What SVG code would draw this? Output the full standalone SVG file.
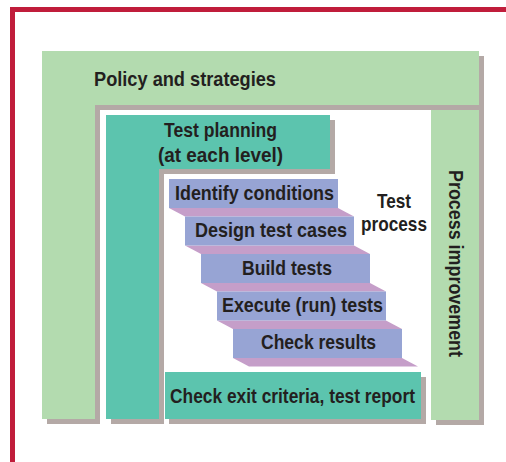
<svg xmlns="http://www.w3.org/2000/svg" width="506" height="462" viewBox="0 0 506 462">
  <style>
    .shadow { fill: #B4A9A6; }
    .green { fill: #B3DBAF; }
    .teal { fill: #5CC4AE; }
    .step { fill: #97A4D4; }
    .depth { fill: #C59EC9; }
    .frame { fill: #C01D3B; }
    text { font-family: "Liberation Sans Narrow", "Liberation Sans", Arial, sans-serif; font-weight: bold; font-size: 20.5px; fill: #231F20; }
    .mid { text-anchor: middle; }
  </style>

  <!-- red corner frame -->
  <g id="frame">
    <rect class="frame" x="10" y="7" width="496" height="5"/>
    <rect class="frame" x="10" y="7" width="5" height="455"/>
  </g>

  <!-- outer L: policy and strategies -->
  <g id="policy">
    <path class="shadow" d="M47 56 H484 V110 H100 V424 H47 Z"/>
    <path class="green" d="M42 51 H479 V105 H95 V419 H42 Z"/>
    <text x="94" y="86" textLength="182" lengthAdjust="spacingAndGlyphs">Policy and strategies</text>
  </g>

  <!-- right column: process improvement -->
  <g id="improvement">
    <rect class="shadow" x="436" y="110" width="48" height="315"/>
    <rect class="green" x="431" y="110" width="48" height="310"/>
    <text class="mid" transform="translate(448.5 263.5) rotate(90)" x="0" y="0" textLength="187" lengthAdjust="spacingAndGlyphs">Process improvement</text>
  </g>

  <!-- inner L: test planning -->
  <g id="planning">
    <path class="shadow" d="M111 120 H335 V174 H164 V424 H111 Z"/>
    <path class="teal" d="M106 115 H330 V169 H159 V419 H106 Z"/>
    <text class="mid" x="220.5" y="137" textLength="113" lengthAdjust="spacingAndGlyphs">Test planning</text>
    <text class="mid" x="220.5" y="162" textLength="125" lengthAdjust="spacingAndGlyphs">(at each level)</text>
  </g>

  <!-- bottom bar: exit criteria -->
  <g id="exit">
    <rect class="shadow" x="169" y="377" width="257" height="47"/>
    <rect class="teal" x="165" y="372" width="256" height="47"/>
    <text class="mid" x="292.5" y="403" textLength="245" lengthAdjust="spacingAndGlyphs">Check exit criteria, test report</text>
  </g>

  <!-- staircase of test process steps -->
  <g id="step1">
    <path class="depth" d="M169 208 H338 L354 216.5 H185 Z"/>
    <rect class="step" x="169" y="179" width="169" height="29"/>
    <text class="mid" x="254.5" y="200" textLength="159" lengthAdjust="spacingAndGlyphs">Identify conditions</text>
  </g>
  <g id="step2">
    <path class="depth" d="M185 245.5 H354 L370 254 H201 Z"/>
    <rect class="step" x="185" y="216.5" width="169" height="29"/>
    <text class="mid" x="271" y="237" textLength="152" lengthAdjust="spacingAndGlyphs">Design test cases</text>
  </g>
  <g id="step3">
    <path class="depth" d="M201 283 H370 L386 291.5 H217 Z"/>
    <rect class="step" x="201" y="254" width="169" height="29"/>
    <text class="mid" x="287" y="275" textLength="90" lengthAdjust="spacingAndGlyphs">Build tests</text>
  </g>
  <g id="step4">
    <path class="depth" d="M217 320.5 H386 L402 329 H233 Z"/>
    <rect class="step" x="217" y="291.5" width="169" height="29"/>
    <text class="mid" x="302.5" y="312" textLength="161" lengthAdjust="spacingAndGlyphs">Execute (run) tests</text>
  </g>
  <g id="step5">
    <path class="depth" d="M233 358 H402 L418 366.5 H249 Z"/>
    <rect class="step" x="233" y="329" width="169" height="29"/>
    <text class="mid" x="318.5" y="349" textLength="115" lengthAdjust="spacingAndGlyphs">Check results</text>
  </g>

  <!-- label for the staircase -->
  <g id="process-label">
    <text class="mid" x="394" y="208" textLength="34" lengthAdjust="spacingAndGlyphs">Test</text>
    <text class="mid" x="394" y="231" textLength="66" lengthAdjust="spacingAndGlyphs">process</text>
  </g>
</svg>
